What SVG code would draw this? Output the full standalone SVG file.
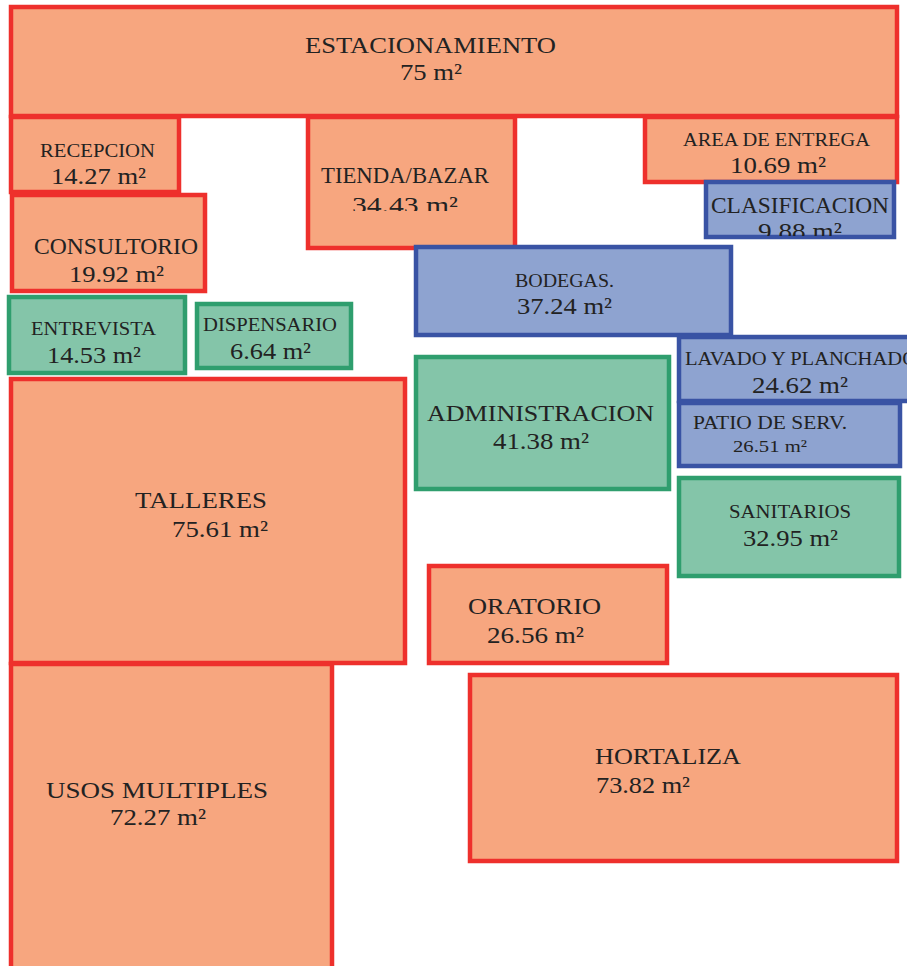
<svg xmlns="http://www.w3.org/2000/svg" width="907" height="966" viewBox="0 0 907 966">
<style>
.o{fill:#F7A67F;stroke:#EE302C;stroke-width:4.5}
.b{fill:#8EA3D0;stroke:#3953A4;stroke-width:4.5}
.g{fill:#84C5A9;stroke:#2F9E6E;stroke-width:4.5}
text{font-family:"Liberation Serif","DejaVu Serif",serif;fill:#222;text-anchor:middle}
.s{font-size:19px}
.m{font-size:23px}
.n{font-size:23px}
</style>
<defs>
<clipPath id="cT"><rect x="300" y="150" width="220" height="61"/></clipPath>
<clipPath id="cC"><rect x="700" y="180" width="200" height="56"/></clipPath>
</defs>
<rect width="907" height="966" fill="#fff"/>
<g id="estacionamiento">
<rect class="o" x="11" y="7" width="886" height="109"/>
<text class="m" x="430.5" y="53" textLength="251" lengthAdjust="spacingAndGlyphs">ESTACIONAMIENTO</text>
<text class="n" x="431" y="80" textLength="62" lengthAdjust="spacingAndGlyphs">75 m²</text>
</g>
<g id="recepcion">
<rect class="o" x="11" y="117" width="168" height="75"/>
<text class="s" x="97.5" y="157" textLength="115" lengthAdjust="spacingAndGlyphs">RECEPCION</text>
<text class="n" x="98.5" y="184" textLength="95" lengthAdjust="spacingAndGlyphs">14.27 m²</text>
</g>
<g id="consultorio">
<rect class="o" x="12" y="195" width="193" height="96"/>
<text class="m" x="116" y="254" textLength="164" lengthAdjust="spacingAndGlyphs">CONSULTORIO</text>
<text class="n" x="116.5" y="282" textLength="95" lengthAdjust="spacingAndGlyphs">19.92 m²</text>
</g>
<g id="tienda">
<rect class="o" x="308" y="117" width="207" height="131"/>
<text class="m" x="405" y="183" textLength="168" lengthAdjust="spacingAndGlyphs">TIENDA/BAZAR</text>
<text class="n" x="405" y="212.5" textLength="106" lengthAdjust="spacingAndGlyphs" clip-path="url(#cT)">34.43 m²</text>
</g>
<g id="area-entrega">
<rect class="o" x="645" y="117" width="252" height="65"/>
<text class="s" x="776.5" y="146" textLength="187" lengthAdjust="spacingAndGlyphs">AREA DE ENTREGA</text>
<text class="n" x="778" y="173" textLength="96" lengthAdjust="spacingAndGlyphs">10.69 m²</text>
</g>
<g id="clasificacion">
<rect class="b" x="706" y="182" width="188" height="55"/>
<text class="m" x="800" y="213" textLength="178" lengthAdjust="spacingAndGlyphs">CLASIFICACION</text>
<text class="n" x="800" y="239" textLength="84" lengthAdjust="spacingAndGlyphs" clip-path="url(#cC)">9.88 m²</text>
</g>
<g id="bodegas">
<rect class="b" x="416" y="247" width="315" height="88"/>
<text class="s" x="564.5" y="287" textLength="99" lengthAdjust="spacingAndGlyphs">BODEGAS.</text>
<text class="n" x="564.5" y="314" textLength="95" lengthAdjust="spacingAndGlyphs">37.24 m²</text>
</g>
<g id="entrevista">
<rect class="g" x="9" y="297" width="176" height="76"/>
<text class="s" x="93.5" y="335" textLength="125" lengthAdjust="spacingAndGlyphs">ENTREVISTA</text>
<text class="n" x="94" y="363" textLength="94" lengthAdjust="spacingAndGlyphs">14.53 m²</text>
</g>
<g id="dispensario">
<rect class="g" x="197" y="304" width="154" height="64"/>
<text class="s" x="270" y="331" textLength="134" lengthAdjust="spacingAndGlyphs">DISPENSARIO</text>
<text class="n" x="270.5" y="359" textLength="81" lengthAdjust="spacingAndGlyphs">6.64 m²</text>
</g>
<g id="lavado">
<rect class="b" x="679" y="337" width="240" height="64"/>
<text class="s" x="685" y="365" textLength="232" lengthAdjust="spacingAndGlyphs" style="text-anchor:start">LAVADO Y PLANCHADO</text>
<text class="n" x="800" y="393" textLength="96" lengthAdjust="spacingAndGlyphs">24.62 m²</text>
</g>
<g id="patio">
<rect class="b" x="679" y="403" width="221" height="63"/>
<text class="s" x="770" y="429" textLength="154" lengthAdjust="spacingAndGlyphs">PATIO DE SERV.</text>
<text x="770" y="452" font-size="17" textLength="74" lengthAdjust="spacingAndGlyphs">26.51 m²</text>
</g>
<g id="administracion">
<rect class="g" x="416" y="357" width="253" height="132"/>
<text x="540.5" y="421" font-size="24" textLength="227" lengthAdjust="spacingAndGlyphs">ADMINISTRACION</text>
<text class="n" x="541" y="449" textLength="96" lengthAdjust="spacingAndGlyphs">41.38 m²</text>
</g>
<g id="sanitarios">
<rect class="g" x="679" y="478" width="220" height="98"/>
<text class="s" x="790" y="518" textLength="122" lengthAdjust="spacingAndGlyphs">SANITARIOS</text>
<text class="n" x="790.5" y="546" textLength="95" lengthAdjust="spacingAndGlyphs">32.95 m²</text>
</g>
<g id="talleres">
<rect class="o" x="11" y="379" width="394" height="284"/>
<text class="m" x="201" y="508" textLength="132" lengthAdjust="spacingAndGlyphs">TALLERES</text>
<text class="n" x="220" y="537" textLength="96" lengthAdjust="spacingAndGlyphs">75.61 m²</text>
</g>
<g id="usos-multiples">
<rect class="o" x="11" y="664" width="321" height="310"/>
<text class="m" x="157" y="798" textLength="222" lengthAdjust="spacingAndGlyphs">USOS MULTIPLES</text>
<text class="n" x="158" y="825" textLength="96" lengthAdjust="spacingAndGlyphs">72.27 m²</text>
</g>
<g id="oratorio">
<rect class="o" x="429" y="566" width="238" height="97"/>
<text class="m" x="534.5" y="614" textLength="133" lengthAdjust="spacingAndGlyphs">ORATORIO</text>
<text class="n" x="535.5" y="643" textLength="97" lengthAdjust="spacingAndGlyphs">26.56 m²</text>
</g>
<g id="hortaliza">
<rect class="o" x="470" y="675" width="427" height="186"/>
<text class="m" x="595" y="764" textLength="146" lengthAdjust="spacingAndGlyphs" style="text-anchor:start">HORTALIZA</text>
<text class="n" x="596" y="793" textLength="94" lengthAdjust="spacingAndGlyphs" style="text-anchor:start">73.82 m²</text>
</g>
</svg>
